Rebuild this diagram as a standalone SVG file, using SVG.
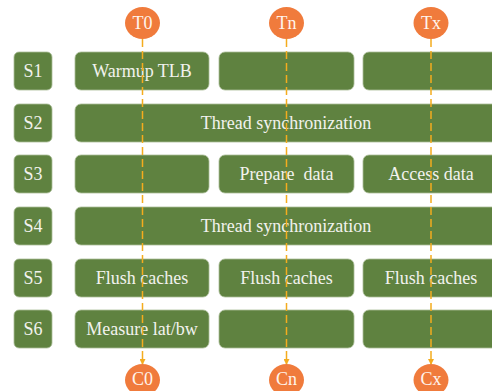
<svg xmlns="http://www.w3.org/2000/svg" width="492" height="391" viewBox="0 0 492 391">
  <style>
    .box { fill: #5F8240; stroke: #A9BD97; stroke-width: 0.8; }
    .lbl { font-family: "Liberation Serif", "Times New Roman", serif; font-size: 18px; fill: #F2F2EE; text-anchor: middle; white-space: pre; }
    .dot { fill: #F07B3C; }
    .dtx { font-family: "Liberation Serif", "Times New Roman", serif; font-size: 18px; fill: #FFF4EC; text-anchor: middle; }
    .flow { stroke: #F4AC1E; stroke-width: 1.5; stroke-dasharray: 8 4; fill: none; marker-end: url(#tip); }
  </style>
  <defs>
    <marker id="tip" markerWidth="6" markerHeight="6" refX="5" refY="3" orient="auto" markerUnits="userSpaceOnUse">
      <path d="M0,0 L6,3 L0,6 Z" fill="#F4AC1E"/>
    </marker>
  </defs>
  <rect width="492" height="391" fill="#FFFFFF"/>

  <!-- step labels -->
  <g id="S1"><rect class="box" x="14" y="52" width="38" height="38" rx="5"/><text class="lbl" x="33" y="77">S1</text></g>
  <g id="S2"><rect class="box" x="14" y="104" width="38" height="38" rx="5"/><text class="lbl" x="33" y="129">S2</text></g>
  <g id="S3"><rect class="box" x="14" y="155" width="38" height="38" rx="5"/><text class="lbl" x="33" y="180">S3</text></g>
  <g id="S4"><rect class="box" x="14" y="207" width="38" height="38" rx="5"/><text class="lbl" x="33" y="232">S4</text></g>
  <g id="S5"><rect class="box" x="14" y="259" width="38" height="38" rx="5"/><text class="lbl" x="33" y="284">S5</text></g>
  <g id="S6"><rect class="box" x="14" y="310" width="38" height="38" rx="5"/><text class="lbl" x="33" y="335">S6</text></g>

  <!-- row 1 -->
  <g id="warmup"><rect class="box" x="75" y="52" width="134" height="38" rx="6"/><text class="lbl" x="142" y="77">Warmup TLB</text></g>
  <g id="s1-c2"><rect class="box" x="219" y="52" width="135" height="38" rx="6"/></g>
  <g id="s1-c3"><rect class="box" x="363" y="52" width="135" height="38" rx="6"/></g>

  <!-- row 2 -->
  <g id="sync1"><rect class="box" x="75" y="104" width="423" height="38" rx="6"/><text class="lbl" x="286" y="129">Thread synchronization</text></g>

  <!-- row 3 -->
  <g id="s3-c1"><rect class="box" x="75" y="155" width="134" height="38" rx="6"/></g>
  <g id="prepare"><rect class="box" x="219" y="155" width="135" height="38" rx="6"/><text class="lbl" x="286.5" y="180">Prepare  data</text></g>
  <g id="access"><rect class="box" x="363" y="155" width="135" height="38" rx="6"/><text class="lbl" x="431" y="180">Access data</text></g>

  <!-- row 4 -->
  <g id="sync2"><rect class="box" x="75" y="207" width="423" height="38" rx="6"/><text class="lbl" x="286" y="232">Thread synchronization</text></g>

  <!-- row 5 -->
  <g id="flush1"><rect class="box" x="75" y="259" width="134" height="38" rx="6"/><text class="lbl" x="142" y="284">Flush caches</text></g>
  <g id="flush2"><rect class="box" x="219" y="259" width="135" height="38" rx="6"/><text class="lbl" x="286.5" y="284">Flush caches</text></g>
  <g id="flush3"><rect class="box" x="363" y="259" width="135" height="38" rx="6"/><text class="lbl" x="431" y="284">Flush caches</text></g>

  <!-- row 6 -->
  <g id="measure"><rect class="box" x="75" y="310" width="134" height="38" rx="6"/><text class="lbl" x="142" y="335">Measure lat/bw</text></g>
  <g id="s6-c2"><rect class="box" x="219" y="310" width="135" height="38" rx="6"/></g>
  <g id="s6-c3"><rect class="box" x="363" y="310" width="135" height="38" rx="6"/></g>

  <!-- thread timelines -->
  <g id="connectors">
    <line class="flow" x1="142.5" y1="39" x2="142.5" y2="364"/>
    <line class="flow" x1="286.5" y1="39" x2="286.5" y2="364"/>
    <line class="flow" x1="431" y1="39" x2="431" y2="364"/>
  </g>

  <!-- thread start / end markers -->
  <g id="T0"><ellipse class="dot" cx="142.5" cy="23" rx="17.5" ry="16"/><text class="dtx" x="142.5" y="29">T0</text></g>
  <g id="Tn"><ellipse class="dot" cx="286.5" cy="23" rx="17.5" ry="16"/><text class="dtx" x="286.5" y="29">Tn</text></g>
  <g id="Tx"><ellipse class="dot" cx="431" cy="23" rx="17.5" ry="16"/><text class="dtx" x="431" y="29">Tx</text></g>
  <g id="C0"><ellipse class="dot" cx="142.5" cy="380" rx="17.5" ry="16"/><text class="dtx" x="142.5" y="385">C0</text></g>
  <g id="Cn"><ellipse class="dot" cx="286.5" cy="380" rx="17.5" ry="16"/><text class="dtx" x="286.5" y="385">Cn</text></g>
  <g id="Cx"><ellipse class="dot" cx="431" cy="380" rx="17.5" ry="16"/><text class="dtx" x="431" y="385">Cx</text></g>
</svg>
